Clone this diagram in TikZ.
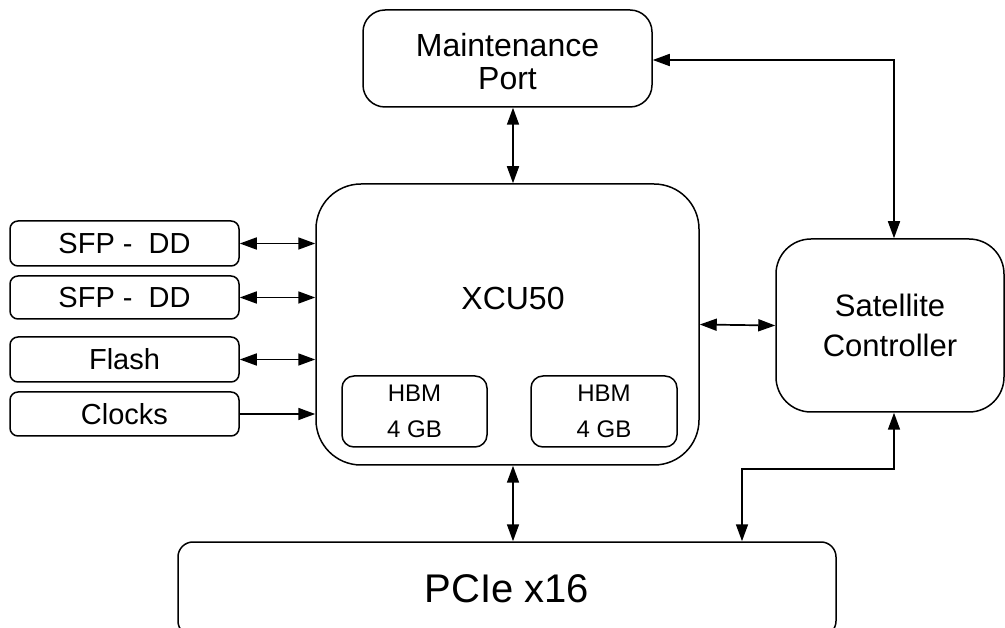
\documentclass[tikz,border=0pt]{standalone}
\usepackage{fontspec}
\setmainfont{Liberation Sans}
\usetikzlibrary{arrows.meta}
\begin{document}
\begin{tikzpicture}[x=1pt,y=-1pt,
  box/.style={draw, line width=1.5pt, align=center, inner sep=0pt},
  tip/.tip={Triangle[length=17pt,width=12pt]},
  bi/.style={line width=1.7pt, tip-tip},
  uni/.style={line width=1.7pt, -tip},
  f32/.style={font=\fontsize{32}{33}\selectfont},
  f29/.style={font=\fontsize{29}{30}\selectfont},
  f24/.style={font=\fontsize{24}{36}\selectfont},
  f40/.style={font=\fontsize{40}{40}\selectfont}]
\useasboundingbox (0,0) rectangle (1005,628);
\clip (0,0) rectangle (1005,628);
% boxes
\node[box, f32, rounded corners=22pt, minimum width=289pt, minimum height=97pt] (mp) at (507.5,58.5) {\raisebox{-3pt}[\height][\depth]{Maintenance}\\\raisebox{-3pt}[\height][\depth]{Port}};
\node[box, rounded corners=45pt, minimum width=383pt, minimum height=281pt] (xcu) at (507.5,324.5) {};
\node[f32] (xcul) at (513,298) {XCU50};
\node[box, f24, rounded corners=12pt, minimum width=145pt, minimum height=71pt] (hbm1) at (414.5,411.5) {HBM\\4 GB};
\node[box, f24, rounded corners=12pt, minimum width=146pt, minimum height=71pt] (hbm2) at (604,411.5) {HBM\\4 GB};
\node[box, f29, rounded corners=8pt, minimum width=229pt, minimum height=45pt] (sfp1) at (124.5,243.5) {SFP -\ \ DD};
\node[box, f29, rounded corners=8pt, minimum width=229pt, minimum height=43pt] (sfp2) at (124.5,297.5) {SFP -\ \ DD};
\node[box, f29, rounded corners=8pt, minimum width=229pt, minimum height=45pt] (flash) at (124.5,359.5) {Flash};
\node[box, f29, rounded corners=8pt, minimum width=229pt, minimum height=44pt] (clocks) at (124.5,414) {Clocks};
\node[box, rounded corners=35pt, minimum width=228pt, minimum height=173pt, font=\fontsize{31}{40}\selectfont] (sat) at (890,325.5) {Satellite\\Controller};
\node[box, f40, rounded corners=15pt, minimum width=658pt, minimum height=94pt] (pcie) at (507,589) {PCIe x16};
% connectors
\draw[bi] ([xshift=5.5pt]mp.south) -- ([xshift=5.5pt]mp.south |- xcu.north);
\draw[bi] ([yshift=-1.5pt]mp.east) -| ([xshift=4pt]sat.north);
\draw[bi] (sfp1.east) -- (sfp1.east -| xcu.west);
\draw[bi] (sfp2.east) -- (sfp2.east -| xcu.west);
\draw[bi] (flash.east) -- (flash.east -| xcu.west);
\draw[uni] (clocks.east) -- (clocks.east -| xcu.west);
\draw[bi] (xcu.east) -- (sat.west);
\draw[bi] ([xshift=5.5pt]xcu.south) -- ([xshift=5.5pt]xcu.south |- pcie.north);
\draw[bi] ([xshift=4pt]sat.south) -- ++(0,56) -| ([xshift=235pt]pcie.north);
\end{tikzpicture}
\end{document}
